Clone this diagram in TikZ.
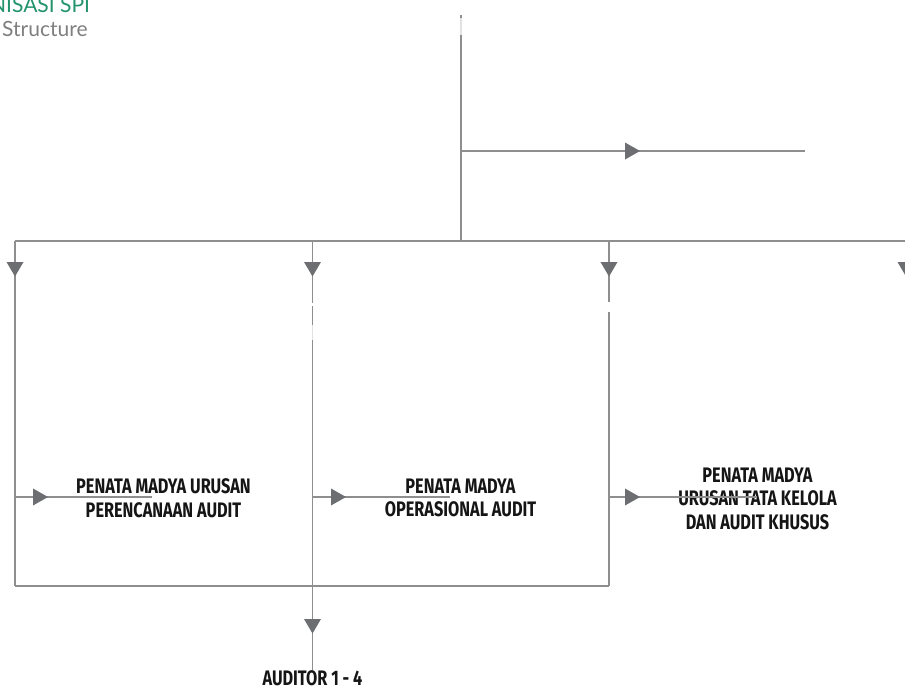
\documentclass[tikz,border=0pt]{standalone}
\usepackage{fontspec}
\newfontfamily\labelfont[FakeStretch=0.775]{Fira Sans}
\newfontfamily\titlefont{Lato}
\definecolor{linegrey}{HTML}{8E8E8E}
\definecolor{faintgrey}{HTML}{E2E2E2}
\definecolor{trifill}{HTML}{6D6E72}
\definecolor{labelblack}{HTML}{151515}
\definecolor{titlegreen}{HTML}{23936E}
\definecolor{titlegrey}{HTML}{7F7F7F}
\tikzset{
  conn/.style={draw=linegrey, line width=1.4pt},
  faint/.style={draw=faintgrey, line width=1.4pt},
  lbl/.style={font={\labelfont\bfseries\fontsize{21}{23.5}\selectfont},
              align=center, inner sep=0pt, text=labelblack},
  ttl/.style={anchor=base west, inner sep=0pt,
              font={\titlefont\fontsize{21}{24}\selectfont}},
  triR/.pic={\fill[trifill] (0,-8.5) -- (15,0) -- (0,8.5) -- cycle;},
  triD/.pic={\fill[trifill] (-8.5,0) -- (0,14.5) -- (8.5,0) -- cycle;},
}
\begin{document}
\begin{tikzpicture}[x=1pt,y=-1pt]
\useasboundingbox (0,0) rectangle (905,688);
\clip (0,0) rectangle (905,688);

% heading
\node[ttl, text=titlegreen] (title) at (-10,12.5) {NISASI SPI};
\node[ttl, text=titlegrey] (subtitle) at (2,36.5) {Structure};

% anchor points of the chart
\coordinate (topA) at (461,15);
\coordinate (topB) at (461,18);
\coordinate (topC) at (461,35);
\coordinate (hub)  at (461,241);
\coordinate (brS)  at (461,151);
\coordinate (brE)  at (805,151);
\coordinate (busL) at (15,241);
\coordinate (busR) at (905,241);
\coordinate (c1)   at (15,241);
\coordinate (c2)   at (312.5,241);
\coordinate (c3)   at (609,241);
\coordinate (c1b)  at (15,586);
\coordinate (c2b)  at (312.5,586);
\coordinate (c3b)  at (609,586);
\coordinate (c2g1) at (312.5,303);
\coordinate (c2g2) at (312.5,306);
\coordinate (c2g3) at (312.5,325);
\coordinate (c2g4) at (312.5,340);
\coordinate (c3g1) at (609,302);
\coordinate (c3g2) at (609,312);
\coordinate (a1s)  at (15,497);
\coordinate (a1e)  at (152,497);
\coordinate (a2s)  at (312.5,497);
\coordinate (a2e)  at (450,497);
\coordinate (a3s)  at (609,497);
\coordinate (a3e)  at (757,497);
\coordinate (audTop) at (312.5,670);

% unit labels
\node[lbl] (perencanaan) at (163.5,498) {PENATA MADYA URUSAN\\PERENCANAAN AUDIT};
\node[lbl] (operasional) at (460.5,498) {PENATA MADYA\\OPERASIONAL AUDIT};
\node[lbl] (tatakelola)  at (757.5,498.5) {PENATA MADYA\\URUSAN TATA KELOLA\\DAN AUDIT KHUSUS};
\node[lbl, anchor=base] (auditor) at (312.5,685) {AUDITOR 1 - 4};

% connectors
\draw[conn] (topA) -- (topB);
\draw[faint] (topB) -- (topC);
\draw[conn] (topC) -- (hub);
\draw[conn] (brS) -- (brE);
\draw[conn] (busL) -- (busR);
\draw[conn] (c1) -- (c1b);
\draw[conn] (c2) -- (c2g1);
\draw[conn] (c2g2) -- (c2g3);
\draw[faint] (c2g3) -- (c2g4);
\draw[conn] (c2g4) -- (c2b);
\draw[conn] (c3) -- (c3g1);
\draw[conn] (c3g2) -- (c3b);
\draw[conn] (c1b) -- (c3b);
\draw[conn] (c2b) -- (audTop);
\draw[conn] (a1s) -- (a1e);
\draw[conn] (a2s) -- (a2e);
\draw[conn] (a3s) -- (a3e);

% arrowheads
\pic at (625,151) {triR};
\pic at (15,262) {triD};
\pic at (312.5,262) {triD};
\pic at (609,262) {triD};
\pic at (906,262) {triD};
\pic at (33,497) {triR};
\pic at (331,497) {triR};
\pic at (625,497) {triR};
\pic at (312.5,619) {triD};
\end{tikzpicture}
\end{document}
